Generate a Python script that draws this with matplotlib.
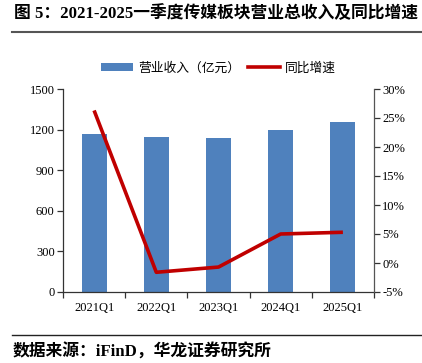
import matplotlib
matplotlib.use("Agg")
import matplotlib.pyplot as plt
from matplotlib.lines import Line2D
from matplotlib.patches import Patch
from matplotlib.ticker import FixedLocator, NullFormatter

categories = ["2021Q1", "2022Q1", "2023Q1", "2024Q1", "2025Q1"]
revenue = [1167, 1148, 1138, 1195, 1256]
growth = [26.3, -1.6, -0.7, 5.0, 5.3]
left_ticks = [0, 300, 600, 900, 1200, 1500]
right_ticks = [-5, 0, 5, 10, 15, 20, 25, 30]

title = "图 5：2021-2025一季度传媒板块营业总收入及同比增速"
source = "数据来源：iFinD，华龙证券研究所"
bar_label = "营业收入（亿元）"
line_label = "同比增速"

W, H = 422, 363
fig = plt.figure(figsize=(W / 100, H / 100), dpi=100)
serif = ["Liberation Serif", "Noto Sans CJK SC"]

ax = fig.add_axes([63 / W, 1 - 292 / H, (374 - 63) / W, (292 - 89) / H])
x = list(range(len(categories)))
ax.bar(x, revenue, width=0.4, color="#4F81BD", zorder=2)
ax.set_xlim(-0.5, len(categories) - 0.5)
ax.set_ylim(0, 1500)
ax.set_yticks(left_ticks)
ax.set_yticklabels([str(t) for t in left_ticks], family=serif, fontsize=9)
ax.set_xticks(x)
ax.set_xticklabels(categories, family=serif, fontsize=9)
ax.tick_params(axis="x", which="major", length=0, pad=7)
ax.xaxis.set_minor_locator(FixedLocator([i + 0.5 for i in range(-1, len(categories))]))
ax.xaxis.set_minor_formatter(NullFormatter())
ax.tick_params(axis="x", which="minor", length=4, width=0.9, color="#333333")
ax.tick_params(axis="y", length=4, width=0.9, color="#333333", pad=2)
for s in ["top", "right"]:
    ax.spines[s].set_visible(False)
for s in ["left", "bottom"]:
    ax.spines[s].set_color("#333333")
    ax.spines[s].set_linewidth(0.9)

ax2 = ax.twinx()
ax2.plot(x, growth, color="#C00000", lw=2.6, solid_capstyle="butt", zorder=3)
ax2.set_ylim(-5, 30)
ax2.set_yticks(right_ticks)
ax2.set_yticklabels([f"{t}%" for t in right_ticks], family=serif, fontsize=9)
ax2.tick_params(axis="y", length=4, width=0.9, color="#333333", pad=2)
for s in ["top", "left", "bottom"]:
    ax2.spines[s].set_visible(False)
ax2.spines["right"].set_color("#555555")
ax2.spines["right"].set_linewidth(0.9)

handles = [Patch(facecolor="#4F81BD", edgecolor="none"),
           Line2D([0], [0], color="#C00000", lw=2.6)]
fig.legend(handles, [bar_label, line_label], loc="center",
           bbox_to_anchor=(218.5 / W, 1 - 68 / H), ncol=2, frameon=False,
           prop={"family": ["Noto Sans CJK SC"], "size": 9.2},
           handlelength=2.5, handleheight=0.55, handletextpad=0.4,
           columnspacing=0.6)

fig.text(14 / W, 1 - 14 / H, title, family=serif, fontweight="bold",
         fontsize=12.1, va="center", ha="left")
fig.add_artist(Line2D([12 / W, 1], [1 - 32 / H] * 2, color="#555555", lw=1.5))
fig.add_artist(Line2D([12 / W, 1], [1 - 335 / H] * 2, color="#222222", lw=1.0))
fig.text(13 / W, 1 - 352 / H, source, family=serif, fontweight="bold",
         fontsize=12.1, va="center", ha="left")

fig.savefig("out.png", dpi=100)
